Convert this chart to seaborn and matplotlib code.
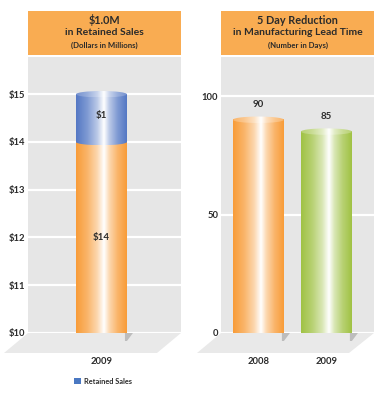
import numpy as np
import matplotlib
matplotlib.use("Agg")
import matplotlib.pyplot as plt
import seaborn as sns
import pandas as pd
from matplotlib.colors import LinearSegmentedColormap, to_rgb
from matplotlib.patches import Rectangle, Polygon, Ellipse, Patch

# ---------------- data ----------------
sales_years = ["2009"]
sales_base = [14]          # orange segment ($ millions)
sales_added = [1]          # blue segment (retained sales)
sales_ticks = [10, 11, 12, 13, 14, 15]
sales_tick_labels = ["$10", "$11", "$12", "$13", "$14", "$15"]
sales_value_labels = ["$14", "$1"]
sales_title = ["$1.0M", "in Retained Sales", "(Dollars in Millions)"]
legend_label = "Retained Sales"

lead_years = ["2008", "2009"]
lead_days = [90, 85]
lead_ticks = [0, 50, 100]
lead_title = ["5 Day Reduction", "in Manufacturing Lead Time", "(Number in Days)"]

# ---------------- style ----------------
sns.set_style("white")
plt.rcParams["font.family"] = ["Lato", "DejaVu Sans"]

ORANGE = "#F89C38"
BLUE = "#5478C4"
GREEN = "#A0C244"
WALL = "#E6E6E6"
FLOOR = "#E9E9E9"
HEADER = "#F9AC52"
TXT = "#2B2B2B"

W, H = 378, 400
fig = plt.figure(figsize=(W / 100, H / 100), dpi=100)


def axes_px(x0, y0, x1, y1):
    return fig.add_axes([x0 / W, 1 - y1 / H, (x1 - x0) / W, (y1 - y0) / H])


def fig_poly(pts, color, z=0):
    p = Polygon([(x / W, 1 - y / H) for x, y in pts], closed=True,
                transform=fig.transFigure, facecolor=color, edgecolor="none", zorder=z)
    fig.patches.append(p)


def cyl_cmap(base, lift=0.0):
    b = np.array(to_rgb(base))
    b = b + (1 - b) * lift
    m1 = b + (1 - b) * 0.25
    m2 = b + (1 - b) * 0.6
    return LinearSegmentedColormap.from_list(
        "c", [(0, b), (0.2, m1), (0.38, m2), (0.5, (1, 1, 1)),
              (0.62, m2), (0.8, m1), (1, b)], N=256)


def grad_img(ax, extent, cmap, clip=None, z=3):
    xs = np.linspace(0, 1, 256)
    vals = np.interp(xs, [0, 0.55, 1], [0, 0.5, 1]).reshape(1, -1)
    im = ax.imshow(vals, cmap=cmap, aspect="auto", extent=extent,
                   interpolation="bilinear", zorder=z, vmin=0, vmax=1)
    if clip is not None:
        im.set_clip_on(True)
        im.set_clip_box(None)
        im.set_clip_path(clip)
    else:
        im.set_clip_on(False)
    return im


def header(x0, x1, lines):
    fig.patches.append(Rectangle((x0 / W, 1 - 55 / H), (x1 - x0) / W, 44 / H,
                                 transform=fig.transFigure, facecolor=HEADER,
                                 edgecolor="none"))
    xc = (x0 + x1) / 2 / W
    fig.text(xc, 1 - 20 / H, lines[0], ha="center", va="center", fontsize=7.8,
             color=TXT, fontweight="bold")
    fig.text(xc, 1 - 32.5 / H, lines[1], ha="center", va="center", fontsize=7.5,
             color=TXT, fontweight="bold")
    fig.text(xc, 1 - 45 / H, lines[2], ha="center", va="center", fontsize=5.6,
             color=TXT, fontweight="bold")


def style_axes(ax, ticks, labels, ylim, xlim):
    ax.set_facecolor(WALL)
    for s in ax.spines.values():
        s.set_visible(False)
    ax.set_ylim(*ylim)
    ax.set_xlim(*xlim)
    ax.set_yticks(ticks)
    ax.set_yticklabels(labels)
    ax.yaxis.grid(True, color="white", lw=1.6)
    ax.xaxis.grid(False)
    ax.set_axisbelow(True)
    ax.tick_params(axis="y", length=0, pad=2, labelsize=6.8, labelcolor=TXT)
    ax.tick_params(axis="x", length=0, pad=17, labelsize=6.8, labelcolor=TXT)
    for lab in ax.get_yticklabels() + ax.get_xticklabels():
        lab.set_fontweight("bold")
    ax.set_xlabel("")
    ax.set_ylabel("")


def shadow(ax, patch, y_floor):
    # soft shadow on the floor, right of the cylinder foot
    x1 = patch.get_x() + patch.get_width()
    px, py = ax.transData.transform((x1, y_floor))
    X = px
    Y = H - py
    fig_poly([(X - 2, Y), (X + 6, Y), (X, Y + 8), (X - 2, Y + 8)], "#BDBDBD", z=1)


def draw_cylinder(ax, patch, cmap, y_lo, y_hi, units_per_px, top=True,
                  bottom=True, top_cmap=None):
    x0 = patch.get_x()
    w = patch.get_width()
    eh = 6.5 * units_per_px
    grad_img(ax, (x0, x0 + w, y_lo, y_hi), cmap)
    if bottom:
        e = Ellipse((x0 + w / 2, y_lo), w, eh, transform=ax.transData)
        grad_img(ax, (x0, x0 + w, y_lo - eh / 2, y_lo + eh / 2), cmap, clip=e)
    if top:
        e = Ellipse((x0 + w / 2, y_hi), w, eh, transform=ax.transData)
        grad_img(ax, (x0, x0 + w, y_hi - eh / 2, y_hi + eh / 2),
                 top_cmap or cmap, clip=e, z=4)
    patch.set_alpha(0)


# ---------------- left chart ----------------
header(28, 181, sales_title)
fig_poly([(28, 333), (181, 333), (157, 353), (4, 353)], FLOOR)
axL = axes_px(28, 57, 181, 333)
ylimL = (10, 15.78)
upL = (ylimL[1] - ylimL[0]) / 276.0

df_total = pd.DataFrame({"year": sales_years,
                         "value": [a + b for a, b in zip(sales_base, sales_added)]})
df_base = pd.DataFrame({"year": sales_years, "value": sales_base})
sns.barplot(data=df_total, x="year", y="value", color=BLUE, width=0.5, ax=axL)
sns.barplot(data=df_base, x="year", y="value", color=ORANGE, width=0.5, ax=axL)
style_axes(axL, sales_ticks, sales_tick_labels, ylimL, (-0.72, 0.78))

patches = list(axL.patches)
blue_p, orange_p = patches[0], patches[1]
ylo = ylimL[0] - 7 * upL
draw_cylinder(axL, orange_p, cyl_cmap(ORANGE), ylo, sales_base[0], upL, top=False)
draw_cylinder(axL, blue_p, cyl_cmap(BLUE), sales_base[0], sales_base[0] + sales_added[0],
              upL, top=True, top_cmap=cyl_cmap(BLUE, 0.2))
style_axes(axL, sales_ticks, sales_tick_labels, ylimL, (-0.72, 0.78))
shadow(axL, orange_p, ylimL[0])

xc = orange_p.get_x() + orange_p.get_width() / 2
axL.text(xc, 12.0, sales_value_labels[0], ha="center", va="center",
         fontsize=7, color=TXT, zorder=6, fontweight="bold")
axL.text(xc, sales_base[0] + sales_added[0] / 2 + 0.05, sales_value_labels[1],
         ha="center", va="center", fontsize=7, color=TXT, zorder=6, fontweight="bold")

fig.legend(handles=[Patch(facecolor="#4A78C2", edgecolor="none", label=legend_label)],
           loc="center", bbox_to_anchor=(103 / W, 1 - 381 / H), frameon=False,
           fontsize=5.3, handlelength=0.9, handleheight=0.9, handletextpad=0.4,
           labelcolor=TXT, prop={"weight": "bold", "size": 5.3})

# ---------------- right chart ----------------
header(221, 374, lead_title)
fig_poly([(221, 333), (374, 333), (349, 353), (197, 353)], FLOOR)
axR = axes_px(221, 57, 374, 333)
ylimR = (0, 116.5)
upR = (ylimR[1] - ylimR[0]) / 276.0
df_lead = pd.DataFrame({"year": lead_years, "days": lead_days})
sns.barplot(data=df_lead, x="year", y="days", hue="year",
            palette=[ORANGE, GREEN], width=0.75, legend=False, ax=axR)
style_axes(axR, lead_ticks, [str(t) for t in lead_ticks], ylimR, (-0.55, 1.70))

for p, col, v in zip(axR.patches, [ORANGE, GREEN], lead_days):
    draw_cylinder(axR, p, cyl_cmap(col), ylimR[0] - 7 * upR, v, upR,
                  top=True, top_cmap=cyl_cmap(col, 0.25))
    axR.annotate(str(v), (p.get_x() + p.get_width() / 2, v), xytext=(0, 11),
                 textcoords="offset points", ha="center", va="center",
                 fontsize=7, color=TXT, zorder=6, fontweight="bold")
style_axes(axR, lead_ticks, [str(t) for t in lead_ticks], ylimR, (-0.55, 1.70))
for p in axR.patches:
    shadow(axR, p, ylimR[0])

fig.savefig("out.png", dpi=100)
